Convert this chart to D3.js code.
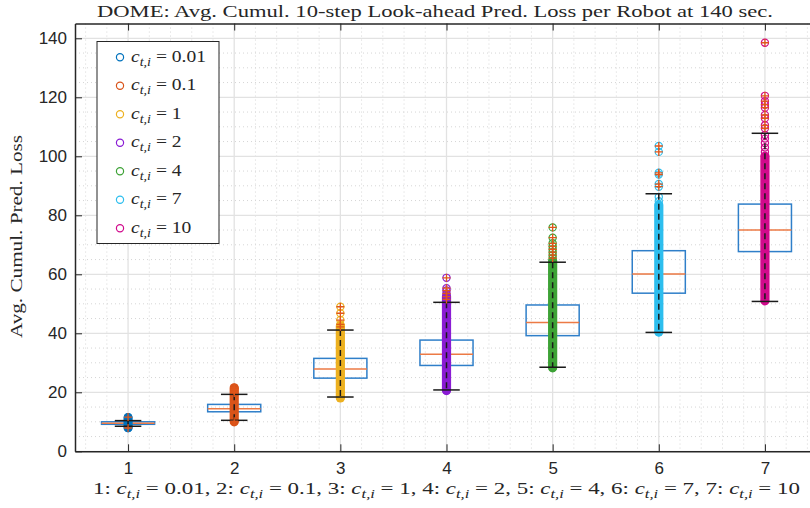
<!DOCTYPE html>
<html>
<head>
  <meta charset="utf-8">
  <title>DOME</title>
  <script src="https://d3js.org/d3.v7.min.js"></script>
  <style>
    body { margin: 0; background: #fff; }
    .tick text { font-family: "Liberation Sans", Arial, sans-serif; font-size: 17px; fill: #262626; }
    .axis path, .axis line { stroke: #262626; }
    .math { font-family: "Liberation Serif", "DejaVu Serif", serif; fill: #262626; }
  </style>
</head>
<body>
<div id="chart"></div>
<script>
"use strict"

// one box per weight value c_{t,i}
var groups = [1, 2, 3, 4, 5, 6, 7];
var cValues = ["0.01", "0.1", "1", "2", "4", "7", "10"];
var colors = ["#0072BD", "#D95319", "#EDB120", "#8A1CD4", "#3DA236", "#2DBEEE", "#D10A8C"];

var q1 =      [9.15, 13.4, 24.8, 29.1, 39.2, 53.6, 67.7];
var median =  [9.5, 14.4, 27.9, 32.9, 43.7, 60.1, 75.0];
var q3 =      [10.0, 15.9, 31.5, 37.7, 49.6, 68.0, 83.8];
var whiskLo = [8.5, 10.5, 18.4, 20.8, 28.5, 40.3, 50.8];
var whiskHi = [10.4, 19.3, 41.1, 50.5, 64.1, 87.3, 107.8];

// range where the raw samples overlap into a solid column
var denseLo = [8.0, 10.0, 18.1, 20.6, 28.3, 40.4, 51.0];
var denseHi = [11.4, 21.5, 42.5, 52.5, 64.5, 83.5, 100.0];

// single samples drawn apart from the column (not outliers)
var extraPts = [
  [],
  [],
  [],
  [],
  [],
  [84.8, 86.2],
  [101.5, 103.0, 104.5, 106.0, 107.2]
];

// outliers (marked with +)
var outliers = [
  [11.6, 7.9],
  [19.8, 20.4, 21.0, 21.5, 10.2],
  [42.2, 43.0, 44.5, 46.8, 49.0],
  [51.5, 52.4, 53.5, 54.5, 55.3, 58.8],
  [65.5, 66.5, 67.5, 68.5, 69.5, 70.5, 72.4, 75.9],
  [89.7, 90.6, 93.8, 94.4, 101.5, 103.5],
  [109.5, 110.5, 112.9, 114.0, 116.5, 117.5, 118.7, 120.5, 138.5]
];

var yTicks = [0, 20, 40, 60, 80, 100, 120, 140];

var W = 810, H = 508;
var svg = d3.select("#chart").append("svg").attr("width", W).attr("height", H);

var x = d3.scaleLinear().domain([0.5, 7.5]).range([75, 818]);
var y = d3.scaleLinear().domain([0, 145]).range([451.3, 23.55]);

// c_{t,i} = v written with tspans
function mathLabel(sel, prefix, val) {
  if (prefix) sel.append("tspan").text(prefix);
  sel.append("tspan").attr("font-style", "italic").text("c");
  sel.append("tspan").attr("font-style", "italic").attr("font-size", "0.72em").attr("dy", 4).text("t,i");
  sel.append("tspan").attr("dy", -4).text(" = " + val);
}

// widen the Times-like text to the width of the LaTeX font
function stretch(sel, w) {
  sel.attr("textLength", w).attr("lengthAdjust", "spacingAndGlyphs");
}

// grid
var minorX = d3.range(0.6, 7.5, 0.2).filter(function(v) { return Math.abs(v - Math.round(v)) > 0.01; });
var minorY = d3.range(5, 145, 5).filter(function(v) { return v % 20 != 0; });
var grid = svg.append("g");
grid.selectAll(".mx").data(minorX).enter().append("line")
  .attr("x1", d => x(d)).attr("x2", d => x(d)).attr("y1", y(145)).attr("y2", y(0))
  .attr("stroke", "#d6d6d6").attr("stroke-dasharray", "1,3");
grid.selectAll(".my").data(minorY).enter().append("line")
  .attr("x1", x(0.5)).attr("x2", x(7.5)).attr("y1", d => y(d)).attr("y2", d => y(d))
  .attr("stroke", "#d6d6d6").attr("stroke-dasharray", "1,3");
grid.selectAll(".gx").data(groups).enter().append("line")
  .attr("x1", d => x(d)).attr("x2", d => x(d)).attr("y1", y(145)).attr("y2", y(0))
  .attr("stroke", "#e2e2e2").attr("stroke-width", 1.3);
grid.selectAll(".gy").data(yTicks).enter().append("line")
  .attr("x1", x(0.5)).attr("x2", x(7.5)).attr("y1", d => y(d)).attr("y2", d => y(d))
  .attr("stroke", "#e2e2e2").attr("stroke-width", 1.3);

// boxes
var bw = 0.25;
var g = svg.selectAll(".grp").data(groups).enter().append("g");
g.append("rect")
  .attr("x", d => x(d - bw)).attr("width", x(d3.min(groups) + bw) - x(d3.min(groups) - bw))
  .attr("y", (d, i) => y(q3[i])).attr("height", (d, i) => y(q1[i]) - y(q3[i]))
  .attr("fill", "none").attr("stroke", "#2F7FC9").attr("stroke-width", 1.5);
g.append("line")
  .attr("x1", d => x(d - bw)).attr("x2", d => x(d + bw))
  .attr("y1", (d, i) => y(median[i])).attr("y2", (d, i) => y(median[i]))
  .attr("stroke", "#EC7A45").attr("stroke-width", 1.5);

// raw samples
g.append("rect")
  .attr("x", d => x(d) - 4.6).attr("width", 9.2)
  .attr("y", (d, i) => y(denseHi[i]) - 4.6)
  .attr("height", (d, i) => y(denseLo[i]) - y(denseHi[i]) + 9.2)
  .attr("rx", 4.6)
  .attr("fill", (d, i) => colors[i]);
g.each(function(d, i) {
  var pts = extraPts[i].concat(outliers[i]).concat([denseLo[i], denseHi[i]]);
  d3.select(this).selectAll("circle").data(pts).enter().append("circle")
    .attr("cx", x(d)).attr("cy", v => y(v)).attr("r", 3.6)
    .attr("fill", "none").attr("stroke", colors[i]).attr("stroke-width", 1.2);
});

// whiskers and caps
g.append("line")
  .attr("x1", d => x(d)).attr("x2", d => x(d))
  .attr("y1", (d, i) => y(whiskHi[i])).attr("y2", (d, i) => y(whiskLo[i]))
  .attr("stroke", "#1a1a1a").attr("stroke-width", 1.5).attr("stroke-dasharray", "6,4");
[whiskLo, whiskHi].forEach(function(arr) {
  g.append("line")
    .attr("x1", d => x(d - bw / 2)).attr("x2", d => x(d + bw / 2))
    .attr("y1", (d, i) => y(arr[i])).attr("y2", (d, i) => y(arr[i]))
    .attr("stroke", "#1a1a1a").attr("stroke-width", 1.5);
});

// outlier plus marks
g.each(function(d, i) {
  d3.select(this).selectAll(".plus").data(outliers[i]).enter().append("path")
    .attr("d", v => "M" + (x(d) - 4) + "," + y(v) + "h8M" + x(d) + "," + (y(v) - 4) + "v8")
    .attr("stroke", "#E0561A").attr("stroke-width", 1.3).attr("fill", "none");
});

// axes
svg.append("g").attr("class", "axis")
  .attr("transform", "translate(0," + y(0) + ")")
  .call(d3.axisBottom(x).tickValues(groups).tickFormat(d3.format("d")).tickSize(-7).tickPadding(11).tickSizeOuter(0));
svg.append("g").attr("class", "axis")
  .attr("transform", "translate(0," + y(145) + ")")
  .call(d3.axisTop(x).tickValues(groups).tickFormat("").tickSize(-7).tickSizeOuter(0));
svg.append("g").attr("class", "axis")
  .attr("transform", "translate(" + x(0.5) + ",0)")
  .call(d3.axisLeft(y).tickValues(yTicks).tickSize(-7).tickPadding(8).tickSizeOuter(0));
svg.selectAll(".axis path").attr("stroke-width", 1.5);

// title and labels
svg.append("text").attr("class", "math")
  .attr("x", 435).attr("y", 17).attr("text-anchor", "middle").attr("font-size", 17.5)
  .text("DOME: Avg. Cumul. 10-step Look-ahead Pred. Loss per Robot at 140 sec.")
  .call(stretch, 676);

svg.append("text").attr("class", "math")
  .attr("transform", "translate(22," + 236.5 + ") rotate(-90)")
  .attr("text-anchor", "middle").attr("font-size", 17)
  .text("Avg. Cumul. Pred. Loss")
  .call(stretch, 203);

var xl = svg.append("text").attr("class", "math")
  .attr("x", 446.5).attr("y", 494).attr("text-anchor", "middle").attr("font-size", 17);
groups.forEach(function(d, i) {
  mathLabel(xl, (i > 0 ? ", " : "") + d + ": ", cValues[i]);
});
xl.call(stretch, 707);

// legend
var leg = svg.append("g");
leg.append("rect").attr("x", 97).attr("y", 41.5).attr("width", 122).attr("height", 202)
  .attr("fill", "#fff").attr("stroke", "#262626").attr("stroke-width", 1);
var item = leg.selectAll(".item").data(groups).enter().append("g")
  .attr("transform", (d, i) => "translate(0," + (57.3 + i * 28.5) + ")");
item.append("circle").attr("cx", 120).attr("cy", 0).attr("r", 3.6)
  .attr("fill", "none").attr("stroke", (d, i) => colors[i]).attr("stroke-width", 1.2);
var legText = item.append("text").attr("class", "math").attr("x", 131).attr("y", 4.5).attr("font-size", 16)
  .each(function(d, i) { mathLabel(d3.select(this), "", cValues[i]); });
var k = 75 / legText.node().getComputedTextLength();
legText.each(function() {
  d3.select(this).call(stretch, this.getComputedTextLength() * k);
});
</script>
</body>
</html>
